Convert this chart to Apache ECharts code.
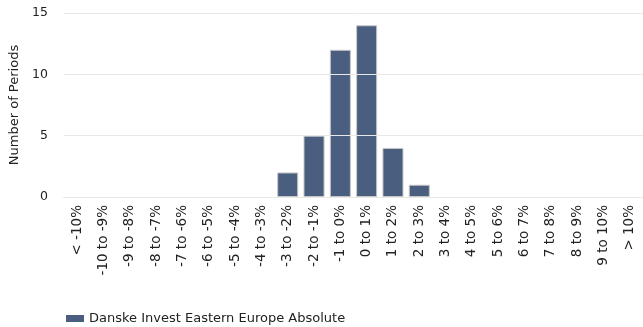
<!DOCTYPE html>
<html>
<head>
<meta charset="utf-8">
<script src="https://cdn.jsdelivr.net/npm/echarts@6/dist/echarts.min.js"></script>
<style>
  html, body { margin: 0; padding: 0; background: #fff; }
  #chart { width: 643px; height: 327px; }
</style>
</head>
<body>
<div id="chart"></div>
<script>
const categories = [
  "< -10%", "-10 to -9%", "-9 to -8%", "-8 to -7%", "-7 to -6%", "-6 to -5%",
  "-5 to -4%", "-4 to -3%", "-3 to -2%", "-2 to -1%", "-1 to 0%", "0 to 1%",
  "1 to 2%", "2 to 3%", "3 to 4%", "4 to 5%", "5 to 6%", "6 to 7%",
  "7 to 8%", "8 to 9%", "9 to 10%", "> 10%"
];
const periods = [0, 0, 0, 0, 0, 0, 0, 0, 2, 5, 12, 14, 4, 1, 0, 0, 0, 0, 0, 0, 0, 0];
const seriesName = "Danske Invest Eastern Europe Absolute";

const font = "'DejaVu Sans', Verdana, sans-serif";
const chart = echarts.init(document.getElementById("chart"), null, { renderer: "canvas" });

// empty buckets draw nothing in the original (no border stub)
const barData = periods.map(v => (v === 0 ? "-" : v));

chart.setOption({
  animation: false,
  textStyle: { fontFamily: font },
  grid: { left: 64, right: 0, top: 13, bottom: 130, containLabel: false },
  legend: {
    left: 61,
    top: 307,
    itemWidth: 18,
    itemHeight: 7,
    itemGap: 10,
    icon: "rect",
    itemStyle: { borderWidth: 0 },
    textStyle: { color: "#222", fontSize: 13, fontFamily: font },
    data: [seriesName]
  },
  xAxis: {
    type: "category",
    data: categories,
    axisLine: { lineStyle: { color: "#c8c8c8", width: 1 } },
    axisTick: { alignWithLabel: true, length: 5, lineStyle: { color: "#c8c8c8" } },
    axisLabel: {
      rotate: 90,
      interval: 0,
      margin: 8,
      color: "#222",
      fontSize: 13.5,
      fontFamily: font
    }
  },
  yAxis: {
    type: "value",
    min: 0,
    max: 15,
    interval: 5,
    z: 3,
    name: "Number of Periods",
    nameLocation: "middle",
    nameGap: 43,
    nameTextStyle: { color: "#222", fontSize: 13, fontFamily: font },
    axisLine: { show: false },
    axisTick: { show: false },
    axisLabel: { color: "#222", fontSize: 12.5, margin: 16, fontFamily: font },
    splitLine: { lineStyle: { color: "#e8e8e8", width: 1 } }
  },
  series: [
    {
      name: seriesName,
      type: "bar",
      data: barData,
      barCategoryGap: "20%",
      itemStyle: {
        color: "#4a5e80",
        borderColor: "#c8c8c8",
        borderWidth: 1
      }
    }
  ]
});
</script>
</body>
</html>
